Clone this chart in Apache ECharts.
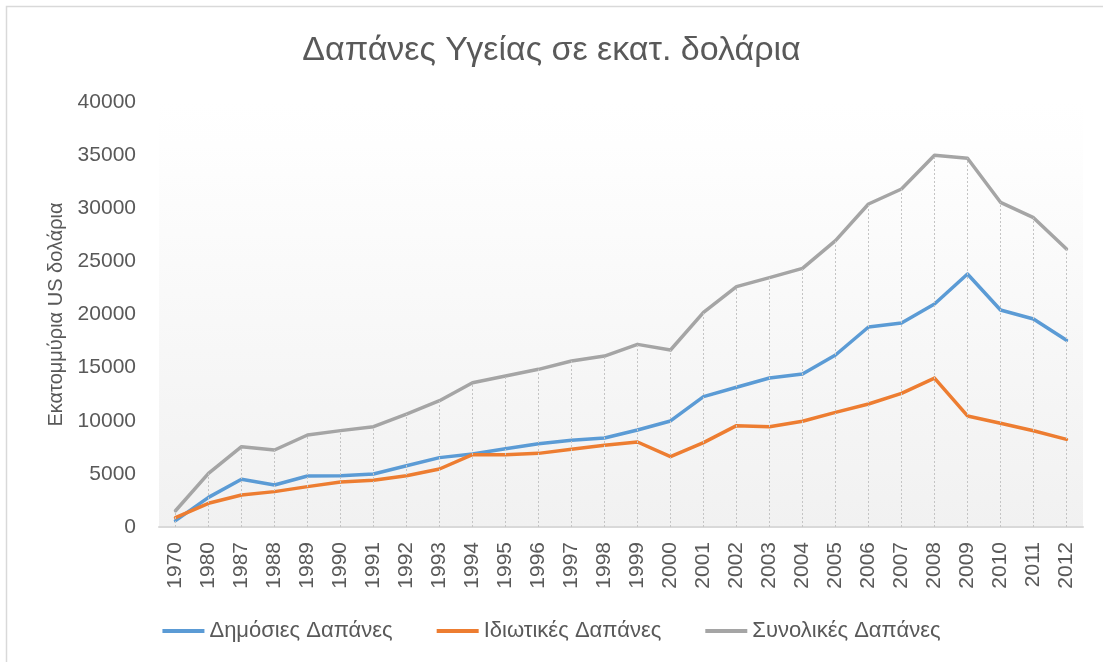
<!DOCTYPE html>
<html>
<head>
<meta charset="utf-8">
<script src="https://cdn.jsdelivr.net/npm/echarts@6/dist/echarts.min.js"></script>
<style>
  html, body { margin: 0; padding: 0; background: #fff; }
  #chart { width: 1103px; height: 662px; }
</style>
</head>
<body>
<div id="chart"></div>
<script>
const years = ['1970', '1980', '1987', '1988', '1989', '1990', '1991', '1992', '1993', '1994',
  '1995', '1996', '1997', '1998', '1999', '2000', '2001', '2002', '2003', '2004',
  '2005', '2006', '2007', '2008', '2009', '2010', '2011', '2012']

// Δημόσιες Δαπάνες
const publicSpend = [600, 2790, 4490, 3950, 4800, 4830, 4990, 5770, 6530, 6870,
  7370, 7840, 8160, 8380, 9130, 9980, 12270, 13150, 14020, 14400,
  16190, 18820, 19200, 20990, 23810, 20420, 19580, 17570]

// Ιδιωτικές Δαπάνες
const privateSpend = [880, 2230, 3010, 3330, 3800, 4240, 4390, 4830, 5460, 6810,
  6810, 6930, 7310, 7690, 8000, 6620, 7940, 9540, 9440, 9950,
  10790, 11580, 12580, 14020, 10450, 9760, 9060, 8250]

// Συνολικές Δαπάνες
const totalSpend = [1530, 5050, 7560, 7250, 8660, 9070, 9440, 10630, 11890, 13580,
  14210, 14840, 15620, 16090, 17190, 16660, 20200, 22620, 23470, 24340,
  26950, 30400, 31810, 34980, 34700, 30560, 29110, 26160]

const font = 'Liberation Sans, Arial, sans-serif'
const textColor = '#595959'

const chart = echarts.init(document.getElementById('chart'))

// dashed drop lines from the total series down to the axis
const dropLines = years.map((y, i) => [
  { coord: [i, 0] },
  { coord: [i, totalSpend[i]] }
])

function lineSeries(name, data, color) {
  return {
    name,
    type: 'line',
    data,
    symbol: 'none',
    lineStyle: { color, width: 3.5, cap: 'round', join: 'round' },
    itemStyle: { color }
  }
}

const totalSeries = lineSeries('Συνολικές Δαπάνες', totalSpend, '#a5a5a5')
totalSeries.markLine = {
  silent: true,
  symbol: 'none',
  label: { show: false },
  lineStyle: { color: '#c4c4c4', width: 1, type: [2, 2] },
  data: dropLines
}

chart.setOption({
  animation: false,
  textStyle: { fontFamily: font },
  title: {
    text: 'Δαπάνες Υγείας σε εκατ. δολάρια',
    left: 'center',
    top: 29,
    textStyle: { fontFamily: font, fontSize: 34, fontWeight: 'normal', color: textColor }
  },
  graphic: [{
    type: 'rect',
    shape: { x: 6.5, y: 6.5, width: 1110, height: 670 },
    style: { fill: 'none', stroke: '#d9d9d9', lineWidth: 1.5 },
    silent: true
  }],
  grid: { left: 159, right: 20, top: 102, bottom: 135, show: true, borderWidth: 0,
    backgroundColor: new echarts.graphic.LinearGradient(0, 0, 0, 1, [
      { offset: 0, color: '#ffffff' },
      { offset: 0.1, color: '#fefefe' },
      { offset: 1, color: '#f1f1f1' }
    ])
  },
  legend: {
    bottom: 15,
    left: 'center',
    icon: 'rect',
    itemWidth: 42,
    itemHeight: 4,
    itemGap: 44,
    textStyle: { fontFamily: font, fontSize: 22, color: textColor },
    data: ['Δημόσιες Δαπάνες', 'Ιδιωτικές Δαπάνες', 'Συνολικές Δαπάνες']
  },
  xAxis: {
    type: 'category',
    data: years,
    boundaryGap: true,
    axisLine: { lineStyle: { color: '#d9d9d9', width: 2 } },
    axisTick: { show: false },
    axisLabel: { rotate: 90, fontSize: 21, color: textColor, margin: 15, interval: 0 }
  },
  yAxis: {
    type: 'value',
    min: 0,
    max: 40000,
    interval: 5000,
    name: 'Εκατομμύρια US δολάρια',
    nameLocation: 'middle',
    nameGap: 83,
    nameTextStyle: { fontFamily: font, fontSize: 20, color: textColor },
    axisLine: { show: false },
    axisTick: { show: false },
    splitLine: { show: false },
    axisLabel: { fontSize: 21, color: textColor, margin: 23, formatter: v => String(v) }
  },
  series: [
    lineSeries('Δημόσιες Δαπάνες', publicSpend, '#5b9bd5'),
    lineSeries('Ιδιωτικές Δαπάνες', privateSpend, '#ed7d31'),
    totalSeries
  ]
})
</script>
</body>
</html>
